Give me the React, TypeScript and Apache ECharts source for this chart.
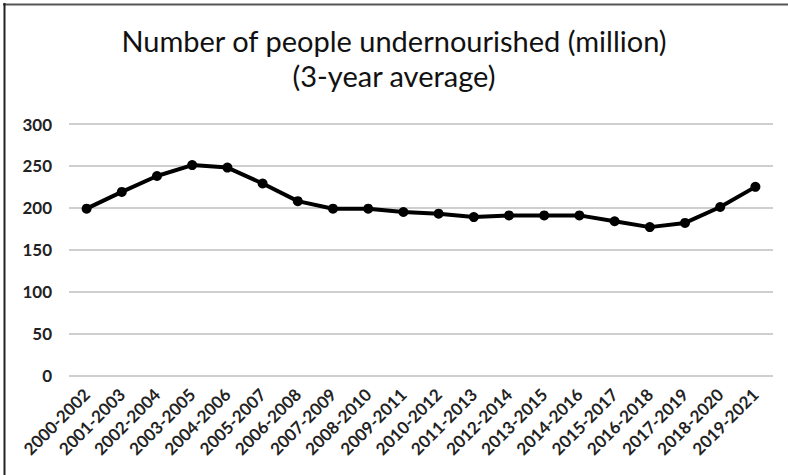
import React, { useEffect, useRef } from "react";
import * as echarts from "echarts";

const titleLines = ["Number of people undernourished (million)", "(3-year average)"];
const categories = [
  "2000-2002", "2001-2003", "2002-2004", "2003-2005", "2004-2006", "2005-2007",
  "2006-2008", "2007-2009", "2008-2010", "2009-2011", "2010-2012", "2011-2013",
  "2012-2014", "2013-2015", "2014-2016", "2015-2017", "2016-2018", "2017-2019",
  "2018-2020", "2019-2021",
];
const undernourished = [199, 219, 238, 251, 248, 229, 208, 199, 199, 195, 193, 189, 191, 191, 191, 184, 177, 182, 201, 225];
const yTicks = { min: 0, max: 300, interval: 50 };

export default function App() {
  const ref = useRef<HTMLDivElement>(null);
  useEffect(() => {
    if (!ref.current) return;
    const chart = echarts.init(ref.current, null, { renderer: "svg" });
    chart.setOption({
      animation: false,
      backgroundColor: "#ffffff",
      title: {
        text: titleLines.join("\n"),
        left: "center",
        top: 18,
        textStyle: {
          fontFamily: "Lato, 'Open Sans', sans-serif",
          fontSize: 29,
          fontWeight: "normal",
          color: "#111",
          lineHeight: 35,
        },
      },
      graphic: [
        { type: "line", shape: { x1: 3, y1: 4.5, x2: 788, y2: 4.5 }, style: { stroke: "#555", lineWidth: 2 } },
        { type: "line", shape: { x1: 4.5, y1: 3, x2: 4.5, y2: 475 }, style: { stroke: "#222", lineWidth: 2 } },
      ],
      grid: { left: 69, right: 15, top: 124, bottom: 99.5, containLabel: false },
      xAxis: {
        type: "category",
        data: categories,
        boundaryGap: true,
        axisLine: { show: false },
        axisTick: { show: false },
        axisLabel: {
          rotate: 45,
          interval: 0,
          margin: 16,
          fontFamily: "Lato, 'Open Sans', sans-serif",
          fontSize: 17,
          fontWeight: "bold",
          color: "#222",
        },
      },
      yAxis: {
        type: "value",
        min: yTicks.min,
        max: yTicks.max,
        interval: yTicks.interval,
        axisLine: { show: false },
        axisTick: { show: false },
        splitLine: { lineStyle: { color: "#bfbfbf", width: 1.5 } },
        axisLabel: {
          margin: 17,
          fontFamily: "Lato, 'Open Sans', sans-serif",
          fontSize: 17,
          fontWeight: "bold",
          color: "#222",
        },
      },
      series: [
        {
          type: "line",
          data: undernourished,
          symbol: "circle",
          symbolSize: 10,
          lineStyle: { color: "#000", width: 4 },
          itemStyle: { color: "#000" },
        },
      ],
    });
    return () => chart.dispose();
  }, []);
  return <div ref={ref} style={{ width: 788, height: 475, position: "absolute", left: 0, top: 0 }} />;
}
